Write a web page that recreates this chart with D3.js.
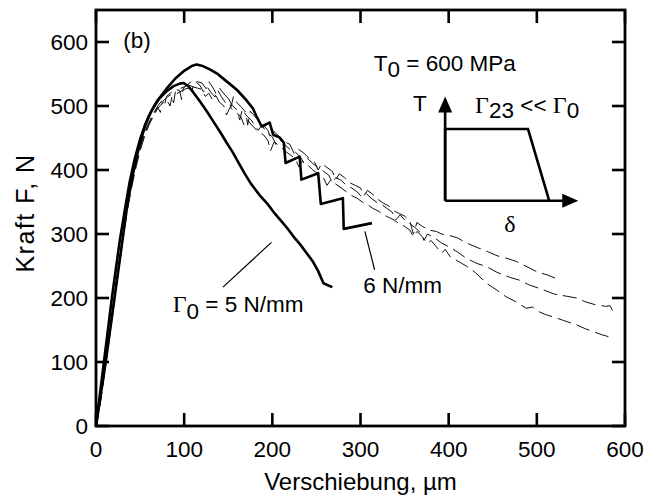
<!DOCTYPE html>
<html><head><meta charset="utf-8">
<script src="https://cdn.jsdelivr.net/npm/d3@7"></script>
<style>body{margin:0;background:#fff}svg{display:block}</style>
</head><body>
<svg id="c" width="648" height="502"></svg>
<script>
// ---------- data ----------
const xTicks = [0,100,200,300,400,500,600];
const yTicks = [0,100,200,300,400,500,600];

// model curve Γ0 = 5 N/mm  [displacement µm, force N]
const model5 = [[0,0],[11,100],[21,200],[30,290],[35,340],[40,380],[45,414],[50,442],[55,466],[60,484],[66,500],[72,512],[80,523],[88,531],[95,535],[99,536],[104,532],[110,522],[118,507],[126,491],[133,476],[141,459],[148,443],[155,428],[161,413],[168,396],[176,378],[186,360],[194,348],[201,335],[209,322],[217,309],[224,296],[232,283],[239,270],[246,257],[252,242],[258,223],[263,220],[268,217]];

// model curve Γ0 = 6 N/mm
const model6 = [[0,0],[9,100],[18,200],[27,290],[33,340],[38,380],[44,418],[50,448],[56,472],[62,490],[70,509],[80,527],[90,543],[100,555],[108,562],[114,565],[120,563],[128,558],[137,551],[145,542],[153,533],[160,525],[170,510],[178,496],[182,484],[188,468],[197,474],[201,455],[208,451],[213,443],[215,411],[231,421],[233,385],[252,395],[255,347],[280,356],[281,308],[313,317]];

// experiment curves (dashed)
const expA = [[0,0],[5,40],[10,90],[15,140],[20,195],[25,245],[30,295],[35,340],[40,378],[45,410],[50,438],[55,458],[60,474],[65,488],[70,500],[75,509],[78,503],[80,515],[85,521],[90,526],[95,524],[97,510],[99,528],[105,535],[110,540],[115,538],[120,536],[125,527],[128,538],[132,530],[136,520],[140,528],[145,519],[150,512],[153,498],[156,515],[160,505],[165,498],[170,490],[172,470],[175,492],[180,484],[185,476],[190,470],[195,462],[198,450],[202,460],[208,452],[214,444],[220,440],[225,425],[230,432],[236,426],[242,418],[248,412],[252,400],[256,410],[262,404],[268,398],[272,385],[276,394],[282,388],[288,380],[294,376],[300,372],[304,360],[308,368],[314,362],[320,354],[326,348],[332,344],[338,336],[344,332],[350,328],[356,320],[360,300],[364,318],[370,312],[378,306],[386,304],[392,300],[400,298],[410,294],[420,286],[434,278],[445,272],[455,266],[466,262],[477,257],[490,248],[500,241],[512,236],[526,228]];
const expB = [[0,0],[5,38],[10,88],[15,138],[20,190],[25,240],[30,290],[35,336],[40,374],[45,406],[50,434],[55,455],[60,472],[65,486],[70,498],[73,490],[75,506],[80,513],[85,518],[88,505],[90,522],[95,527],[100,530],[105,533],[110,530],[113,538],[118,532],[122,522],[126,530],[130,522],[135,514],[138,525],[142,515],[147,505],[150,512],[155,500],[160,494],[163,478],[166,495],[170,486],[176,478],[180,470],[184,462],[188,470],[194,458],[200,452],[204,440],[208,448],[214,440],[220,432],[226,428],[232,420],[236,410],[240,418],[246,410],[252,404],[258,398],[264,392],[268,380],[272,388],[278,384],[284,376],[290,372],[296,366],[300,360],[306,364],[312,356],[318,350],[324,346],[330,340],[336,334],[340,322],[345,330],[350,322],[356,316],[362,310],[368,302],[372,290],[376,300],[384,294],[392,286],[400,280],[410,272],[420,262],[432,254],[443,249],[455,240],[470,232],[480,228],[492,220],[505,214],[520,206],[533,203],[545,200],[555,194],[565,190],[578,187],[583,188],[586,180],[590,176]];
const expC = [[0,0],[5,36],[10,85],[15,135],[20,185],[25,236],[30,286],[35,332],[40,370],[45,402],[50,430],[55,452],[60,470],[65,484],[70,496],[75,504],[80,510],[84,500],[86,514],[90,518],[95,522],[100,526],[105,528],[108,520],[110,530],[115,528],[120,526],[124,515],[128,520],[132,510],[136,516],[140,506],[145,500],[148,486],[152,498],[158,490],[164,484],[168,470],[172,478],[178,468],[184,460],[190,455],[195,446],[198,430],[202,444],[208,438],[214,430],[220,424],[226,418],[230,405],[234,414],[240,408],[246,400],[252,394],[258,388],[262,376],[266,384],[272,378],[278,372],[284,366],[290,360],[296,356],[302,350],[308,346],[314,340],[320,336],[326,330],[332,326],[338,322],[344,316],[350,312],[356,306],[360,296],[364,304],[370,296],[376,285],[380,290],[386,280],[392,270],[396,276],[402,264],[410,258],[420,250],[430,240],[443,223],[455,212],[465,202],[475,195],[488,184],[495,186],[500,180],[510,174],[520,170],[530,165],[545,158],[555,152],[565,147],[575,142],[583,139]];

// inset traction-separation sketch (in chart data units)
const insetShape = [[396,352],[396,464],[490,464],[514,352]];
const insetXAxis = [[396,352],[547,352]];
const insetYAxis = [[396,352],[396,515]];
// leader lines
const leader5 = [[144,217],[199,287]];
const leader6 = [[305,304],[316,244]];

// ---------- layout ----------
const svg = d3.select("#c");
const m = {l:96, t:10, r:625, b:426};
const x = d3.scaleLinear().domain([0,600]).range([m.l, m.r]);
const y = d3.scaleLinear().domain([0,650]).range([m.b, m.t]);
const FONT = "'Liberation Sans', Arial, Helvetica, sans-serif";
const SERIF = "'Liberation Serif', 'Times New Roman', serif";
const FS = 22.5;

const line = d3.line().x(d=>x(d[0])).y(d=>y(d[1]));

// experiment dashed curves
[expA, expB, expC].forEach(s=>{
  svg.append("path").attr("d", line(s)).attr("fill","none")
    .attr("stroke","#111").attr("stroke-width",1)
    .attr("stroke-dasharray","14,6");
});
// model curves
[model5, model6].forEach(s=>{
  svg.append("path").attr("d", line(s)).attr("fill","none")
    .attr("stroke","#000").attr("stroke-width",2.6)
    .attr("stroke-linejoin","round");
});

// leader lines
[leader5, leader6].forEach(s=>{
  svg.append("path").attr("d", line(s)).attr("fill","none")
    .attr("stroke","#000").attr("stroke-width",1.2);
});

// inset
svg.append("path").attr("d", line(insetShape)).attr("fill","none")
  .attr("stroke","#000").attr("stroke-width",2.6);
svg.append("path").attr("d", line([insetXAxis[0],[insetXAxis[1][0]-12,insetXAxis[1][1]]])).attr("stroke","#000").attr("stroke-width",2.6);
svg.append("path").attr("d", line([insetYAxis[0],[insetYAxis[1][0],insetYAxis[1][1]-15]])).attr("stroke","#000").attr("stroke-width",2.6);
// arrowheads
{
  const tx = x(insetXAxis[1][0]), ty = y(insetXAxis[1][1]);
  svg.append("path").attr("d", `M${tx-16},${ty-7}L${tx},${ty}L${tx-16},${ty+7}Z`).attr("fill","#000");
  const ux = x(insetYAxis[1][0]), uy = y(insetYAxis[1][1]);
  svg.append("path").attr("d", `M${ux-7},${uy+16}L${ux},${uy}L${ux+7},${uy+16}Z`).attr("fill","#000");
}

// frame
svg.append("rect").attr("x",m.l).attr("y",m.t).attr("width",m.r-m.l).attr("height",m.b-m.t)
  .attr("fill","none").attr("stroke","#000").attr("stroke-width",2.8);

// ticks (inward, all sides)
const TL = 13;
const tg = svg.append("g").attr("stroke","#000").attr("stroke-width",2.6);
xTicks.forEach(t=>{
  tg.append("line").attr("x1",x(t)).attr("x2",x(t)).attr("y1",m.b).attr("y2",m.b-TL);
  tg.append("line").attr("x1",x(t)).attr("x2",x(t)).attr("y1",m.t).attr("y2",m.t+TL);
});
yTicks.forEach(t=>{
  tg.append("line").attr("y1",y(t)).attr("y2",y(t)).attr("x1",m.l).attr("x2",m.l+TL);
  tg.append("line").attr("y1",y(t)).attr("y2",y(t)).attr("x1",m.r).attr("x2",m.r-TL);
});

// tick labels
xTicks.forEach(t=>{
  svg.append("text").attr("x",x(t)).attr("y",m.b+31).attr("text-anchor","middle")
    .attr("font-family",FONT).attr("font-size",FS).text(t);
});
yTicks.forEach(t=>{
  svg.append("text").attr("x",m.l-8).attr("y",y(t)+8).attr("text-anchor","end")
    .attr("font-family",FONT).attr("font-size",FS).text(t);
});

// axis titles
svg.append("text").attr("x",(m.l+m.r)/2).attr("y",490).attr("text-anchor","middle")
  .attr("font-family",FONT).attr("font-size",24).text("Verschiebung, µm");
svg.append("text").attr("transform",`translate(34,${(m.t+m.b)/2-5}) rotate(-90)`).attr("text-anchor","middle")
  .attr("font-family",FONT).attr("font-size",25).attr("letter-spacing",1.5).text("Kraft F, N");

// annotations
function txt(dx, dy, anchor){
  return svg.append("text").attr("x",x(dx)).attr("y",y(dy)).attr("text-anchor",anchor||"start")
    .attr("font-family",FONT).attr("font-size",FS);
}
txt(31,590).text("(b)");
{
  const t = txt(315,554);
  t.append("tspan").text("T");
  t.append("tspan").attr("dy",6).text("0");
  t.append("tspan").attr("dy",-6).text(" = 600 MPa");
}
txt(359.5,492).text("T");
{
  const t = txt(430,489);
  t.append("tspan").attr("font-family",SERIF).attr("font-size",24).text("Γ");
  t.append("tspan").attr("dy",5).text("23");
  t.append("tspan").attr("dy",-5).text(" << ");
  t.append("tspan").attr("font-family",SERIF).attr("font-size",24).text("Γ");
  t.append("tspan").attr("dy",5).text("0");
}
txt(469.5,303.5,"middle").attr("font-family",SERIF).attr("font-size",24).text("δ");
{
  const t = txt(87,178);
  t.append("tspan").attr("font-family",SERIF).attr("font-size",24).text("Γ");
  t.append("tspan").attr("dy",7).text("0");
  t.append("tspan").attr("dy",-7).text(" = 5 N/mm");
}
txt(303,207.5).text("6 N/mm");
</script>
</body></html>
